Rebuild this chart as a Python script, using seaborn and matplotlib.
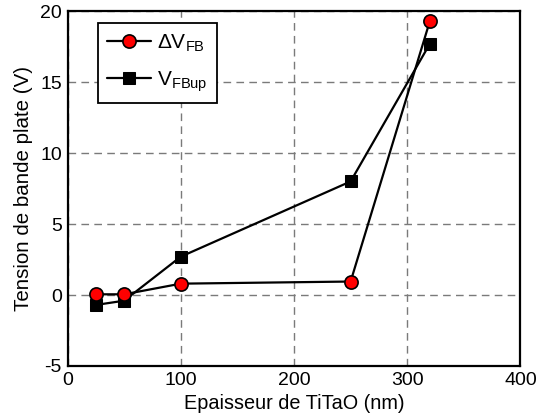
import matplotlib
matplotlib.use("Agg")
import matplotlib.pyplot as plt
import seaborn as sns
import pandas as pd

thickness = [25, 50, 100, 250, 320]
delta_vfb = [0.05, 0.05, 0.8, 0.95, 19.3]
vfb_up = [-0.7, -0.4, 2.7, 8.0, 17.7]
x_ticks = [0, 100, 200, 300, 400]
y_ticks = [-5, 0, 5, 10, 15, 20]

sns.set_theme(style="white")
plt.rcParams['font.family'] = ['Liberation Sans', 'DejaVu Sans']
plt.rcParams['mathtext.fontset'] = 'custom'
plt.rcParams['mathtext.rm'] = 'Liberation Sans'
plt.rcParams['mathtext.it'] = 'Liberation Sans:italic'
plt.rcParams['mathtext.bf'] = 'Liberation Sans:bold'
plt.rcParams['axes.unicode_minus'] = False
plt.rcParams['text.color'] = 'black'
plt.rcParams['axes.labelcolor'] = 'black'
plt.rcParams['xtick.color'] = 'black'
plt.rcParams['ytick.color'] = 'black'

fig = plt.figure(figsize=(5.36, 4.19), dpi=100)
ax = fig.add_axes([0.126, 0.1265, 0.845, 0.847])

df1 = pd.DataFrame({"x": thickness, "y": delta_vfb})
df2 = pd.DataFrame({"x": thickness, "y": vfb_up})

sns.lineplot(data=df2, x="x", y="y", ax=ax, color="black", lw=1.6, marker="s",
             markersize=8.5, markerfacecolor="black", markeredgecolor="black",
             label=r"$\mathregular{V}_{\mathregular{FBup}}$", zorder=3)
sns.lineplot(data=df1, x="x", y="y", ax=ax, color="black", lw=1.6, marker="o",
             markersize=9.5, markerfacecolor="red", markeredgecolor="black",
             markeredgewidth=1.2, label=r"$\Delta\mathregular{V}_{\mathregular{FB}}$", zorder=4)

ax.set_xlim(0, 400)
ax.set_ylim(-5, 20)
ax.set_xticks(x_ticks)
ax.set_yticks(y_ticks)
ax.grid(True, color="#7a7a7a", linestyle=(0, (5.5, 3.8)), lw=1.0)
ax.set_axisbelow(True)
for s in ax.spines.values():
    s.set_color("black")
    s.set_linewidth(1.6)
    s.set_zorder(5)
ax.tick_params(direction="in", length=0, width=1.2, colors="black", labelsize=14,
               pad=4)
ax.set_xlabel("Epaisseur de TiTaO (nm)", fontsize=14.3, labelpad=4)
ax.set_ylabel("Tension de bande plate (V)", fontsize=14.8, labelpad=5)

handles, labels = ax.get_legend_handles_labels()
leg = ax.legend(handles[::-1], labels[::-1], loc="upper left",
                bbox_to_anchor=(0.0667, 0.966), fontsize=15,
                frameon=True, fancybox=False, edgecolor="black", framealpha=1,
                handlelength=2.1, borderpad=0.45, labelspacing=0.75,
                handletextpad=0.3, borderaxespad=0)
leg.get_frame().set_linewidth(1.3)

fig.savefig("out.png", dpi=100)
